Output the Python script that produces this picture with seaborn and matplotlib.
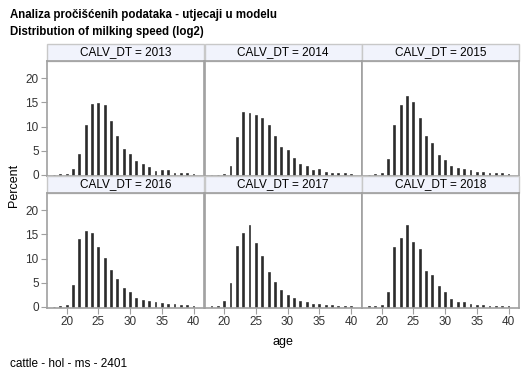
import pandas as pd
import numpy as np
import matplotlib
matplotlib.use("Agg")
import matplotlib.pyplot as plt
from matplotlib.patches import Rectangle
import seaborn as sns

sns.set_theme(style="white")
plt.rcParams['font.family'] = ['Liberation Sans', 'DejaVu Sans']

# podaci procitani s grafa (postotak po dobi, 18-40)
ages = list(range(18, 41))
years = [2013, 2014, 2015, 2016, 2017, 2018]
pct_2013 = [0.05, 0.2, 0.2, 1.1, 4.4, 10.3, 14.7, 14.9, 14.4, 11.2, 8.1, 5.4, 4.3, 2.9, 2.2, 1.7, 0.8, 0.9, 0.9, 0.35, 0.35, 0.35, 0.15]
pct_2014 = [0.05, 0.05, 0.2, 1.9, 7.8, 13.0, 12.9, 12.3, 11.7, 10.3, 8.0, 5.8, 5.2, 3.5, 2.2, 1.8, 0.9, 1.1, 0.6, 0.4, 0.3, 0.3, 0.15]
pct_2015 = [0.05, 0.1, 0.3, 3.3, 10.3, 14.4, 16.4, 15.1, 11.8, 8.0, 6.5, 4.2, 3.0, 1.9, 1.4, 1.1, 1.0, 0.5, 0.5, 0.3, 0.35, 0.3, 0.15]
pct_2016 = [0.05, 0.1, 0.3, 4.6, 14.1, 15.8, 15.3, 12.4, 10.1, 7.6, 5.8, 4.0, 3.1, 1.9, 1.5, 1.1, 1.0, 0.8, 0.6, 0.5, 0.3, 0.3, 0.15]
pct_2017 = [0.1, 0.2, 1.1, 4.9, 12.6, 15.4, 16.9, 13.3, 10.5, 7.3, 5.2, 3.4, 2.4, 1.9, 1.3, 0.9, 0.6, 0.55, 0.4, 0.3, 0.2, 0.15, 0.1]
pct_2018 = [0.1, 0.1, 0.4, 3.1, 12.4, 14.2, 16.9, 13.4, 12.0, 7.5, 6.5, 4.4, 3.1, 1.7, 1.0, 0.9, 0.55, 0.3, 0.35, 0.2, 0.2, 0.15, 0.2]
x_ticks = [20, 25, 30, 35, 40]
y_ticks = [0, 5, 10, 15, 20]

all_pct = [pct_2013, pct_2014, pct_2015, pct_2016, pct_2017, pct_2018]
df = pd.concat([pd.DataFrame({'CALV_DT': yr, 'age': ages, 'percent': p}) for yr, p in zip(years, all_pct)],
               ignore_index=True)

W, H = 529, 378
frame_col = '#a0a0a0'
strip_edge = '#c8c8c8'
text_col = '#333333'

g = sns.FacetGrid(df, col='CALV_DT', col_wrap=3, sharex=True, sharey=True, despine=False)
g.figure.set_size_inches(W / 100, H / 100)
g.map_dataframe(sns.histplot, x='age', weights='percent', discrete=True, shrink=0.3,
                color='#2b2b2b', edgecolor='#1a1a1a', linewidth=0.4, alpha=1)
g.set(xlim=(16.9, 41.7), ylim=(-0.25, 23.6), xticks=x_ticks, yticks=y_ticks)
g.set_titles('')
g.set_axis_labels('', '')

# raspored panela u pikselima
col_x = [47, 204.5, 362]
pw = 157.3
row_top = [61, 193]
ph = 115
strip_h = 17

for i, ax in enumerate(g.axes.flat):
    r, c = divmod(i, 3)
    ax.set_position([col_x[c] / W, (H - row_top[r] - ph) / H, pw / W, ph / H])
    for s in ax.spines.values():
        s.set_color(frame_col)
        s.set_linewidth(1.2)
    ax.tick_params(axis='both', labelsize=8.5, colors=text_col, length=4, width=0.8, direction='out', pad=2)
    ax.tick_params(axis='x', color=frame_col)
    ax.tick_params(axis='y', color=frame_col)
    ax.tick_params(bottom=(r == 1), left=(c == 0), labelbottom=(r == 1), labelleft=(c == 0))
    ax.set_xlabel('')
    ax.set_ylabel('')
    # traka s naslovom panela
    sh = strip_h / ph
    ax.add_patch(Rectangle((0, 1), 1, sh, transform=ax.transAxes, clip_on=False,
                           facecolor='#f1f3fc', edgecolor=strip_edge, linewidth=1.0))
    ax.text(0.5, 1 + sh / 2, f'CALV_DT = {years[i]}', transform=ax.transAxes,
            ha='center', va='center', fontsize=8.5, color='black')

fig = g.figure
fig.text(10 / W, 1 - 15 / H, 'Analiza pročišćenih podataka - utjecaji u modelu', fontsize=8.3,
         fontweight='bold', ha='left', va='center', color='black')
fig.text(10 / W, 1 - 32 / H, 'Distribution of milking speed (log2)', fontsize=8.3,
         fontweight='bold', ha='left', va='center', color='black')
fig.text(14 / W, 1 - 185 / H, 'Percent', rotation=90, fontsize=9, ha='center', va='center', color='black')
fig.text(283 / W, 1 - 342 / H, 'age', fontsize=9, ha='center', va='center', color='black')
fig.text(10 / W, 1 - 364 / H, 'cattle - hol - ms - 2401', fontsize=8.5, ha='left', va='center', color='black')

fig.savefig('out.png', dpi=100)
